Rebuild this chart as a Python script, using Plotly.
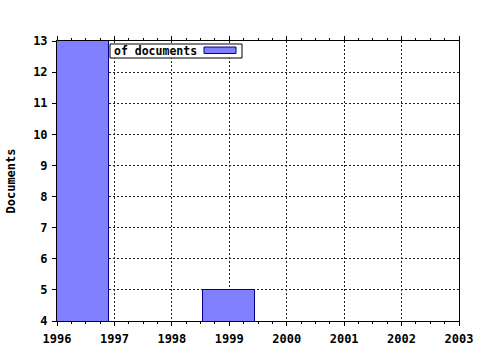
import plotly.graph_objects as go

# Data
years = [1996.45, 1999]      # bar centres (first bar starts at the 1996 axis edge)
documents = [13, 5]
bar_width = [0.9, 0.9]
x_ticks = [1996, 1997, 1998, 1999, 2000, 2001, 2002, 2003]
y_ticks = [4, 5, 6, 7, 8, 9, 10, 11, 12, 13]
legend_label = "of documents"

FONT = "DejaVu Sans Mono"

fig = go.Figure()
fig.add_trace(go.Bar(
    x=years, y=documents, width=bar_width,
    marker=dict(color="#8080FF", line=dict(color="#000080", width=1)),
    showlegend=False,
))

fig.update_layout(
    width=480, height=350,
    margin=dict(l=57, r=21, t=41, b=29),
    paper_bgcolor="white", plot_bgcolor="white",
    font=dict(family=FONT, size=11.5, color="black"),
    bargap=0,
)
fig.update_xaxes(
    range=[1996, 2003], tickvals=x_ticks, ticktext=[str(v) for v in x_ticks],
    showline=True, linecolor="black", linewidth=1, mirror="ticks",
    ticks="outside", ticklen=4, tickcolor="black",
    minor=dict(dtick=0.25, tick0=1996, ticks="outside", ticklen=2, tickcolor="black", showgrid=False),
    showgrid=True, gridcolor="#222222", griddash="2px,2px", gridwidth=1,
    tickfont=dict(family=FONT, size=12, color="black", weight="bold"),
    ticklabelstandoff=3,
    zeroline=False, automargin=False,
)
fig.update_yaxes(
    range=[4, 13], tickvals=y_ticks,
    showline=True, linecolor="black", linewidth=1, mirror=True,
    ticks="outside", ticklen=4, tickcolor="black",
    showgrid=True, gridcolor="#222222", griddash="2px,2px", gridwidth=1,
    tickfont=dict(family=FONT, size=12, color="black", weight="bold"),
    ticklabelstandoff=2,
    title=dict(text="Documents", font=dict(family=FONT, size=12, weight="bold"), standoff=14),
    zeroline=False, automargin=False,
)

# Legend box (text on the left, swatch on the right)
fig.add_shape(type="rect", xref="paper", yref="paper",
              x0=(110 - 57) / 402, x1=(242 - 57) / 402,
              y0=(321 - 58) / 280, y1=(321 - 44) / 280,
              line=dict(color="black", width=1), fillcolor="white", layer="above")
fig.add_shape(type="rect", xref="paper", yref="paper",
              x0=(204 - 57) / 402, x1=(236 - 57) / 402,
              y0=(321 - 53.5) / 280, y1=(321 - 47) / 280,
              line=dict(color="#000080", width=1), fillcolor="#8080FF", layer="above")
fig.add_annotation(xref="paper", yref="paper",
                   x=(112 - 57) / 402, y=(321 - 51) / 280,
                   xanchor="left", yanchor="middle", showarrow=False,
                   text=legend_label,
                   font=dict(family=FONT, size=11.5, color="black", weight="bold"))

fig.write_html("out.html")
